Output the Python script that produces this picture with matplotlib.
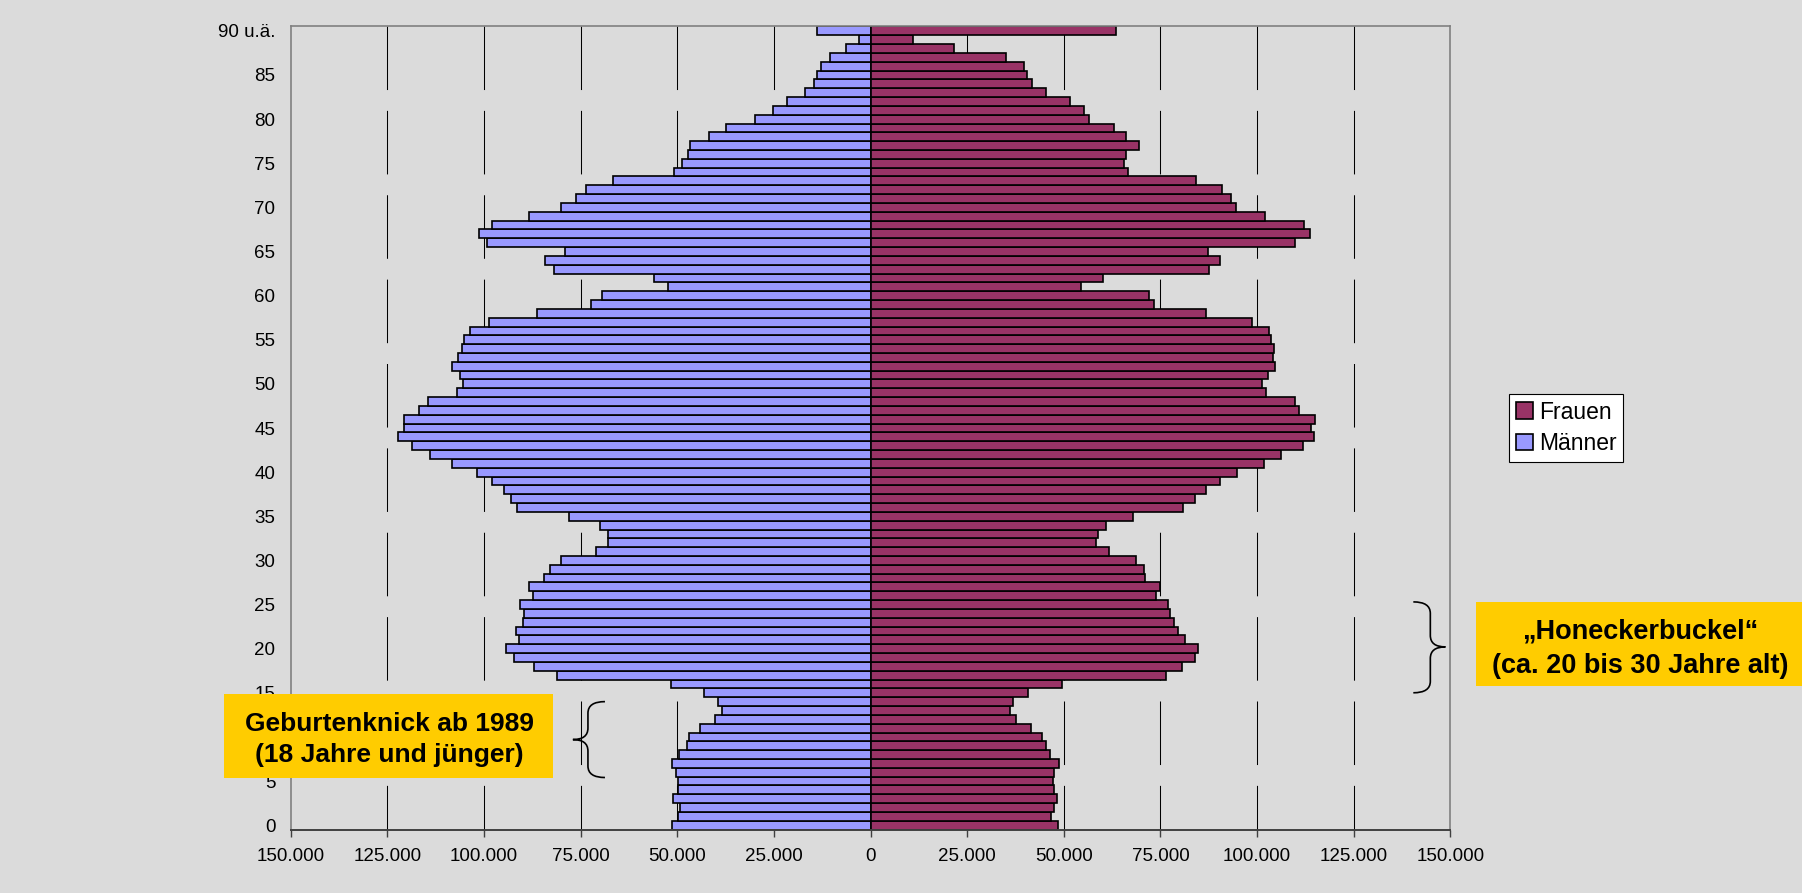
import numpy as np
import matplotlib
matplotlib.use("Agg")
import matplotlib.pyplot as plt
from matplotlib.path import Path
from matplotlib.patches import PathPatch, Rectangle

plt.rcParams['font.family'] = ['Liberation Sans', 'DejaVu Sans']

# Altersjahre 0 .. 90 (90 = "90 u.ä.")
ages = np.arange(0, 91)

# Männer je Altersjahr (0 .. 90)
maenner = [
    51300, 49800, 49400, 51200, 49800, 49800, 50400, 51400, 49600, 47600,
    46900, 44000, 40200, 38400, 39400, 43200, 51600, 81200, 87100, 92300,
    94400, 90900, 91800, 89900, 89700, 90600, 87200, 88300, 84500, 82800,
    80000, 70900, 67800, 68000, 69900, 78000, 91400, 92900, 94700, 97800,
    101900, 108200, 113900, 118600, 122200, 120800, 120800, 116800, 114600, 107000,
    105300, 106100, 108200, 106600, 105800, 105200, 103500, 98800, 86200, 72300,
    69400, 52500, 55900, 81800, 84100, 79000, 99100, 101300, 97900, 88400,
    80100, 76300, 73600, 66700, 50800, 48800, 47200, 46800, 41800, 37350,
    30000, 25200, 21700, 17000, 14600, 13900, 12850, 10570, 6400, 3000,
    13900,
]

# Frauen je Altersjahr (0 .. 90)
frauen = [
    48400, 46600, 47500, 48300, 47500, 47100, 47500, 48800, 46500, 45300,
    44400, 41400, 37600, 36000, 36900, 40700, 49400, 76500, 80600, 84000,
    84800, 81300, 79600, 78400, 77500, 77000, 73900, 75000, 71100, 70800,
    68700, 61700, 58400, 58800, 60900, 68000, 80800, 83800, 86700, 90300,
    94900, 101800, 106200, 111900, 114800, 114000, 114900, 110900, 109800, 102200,
    101200, 102900, 104700, 104000, 104400, 103600, 103100, 98800, 86700, 73400,
    72100, 54400, 60100, 87600, 90300, 87300, 109700, 113600, 112200, 102100,
    94500, 93300, 90900, 84300, 66600, 65600, 66100, 69500, 66000, 63000,
    56600, 55300, 51600, 45400, 41700, 40400, 39600, 35000, 21700, 11100,
    63600,
]

xticks = np.arange(-150000, 150001, 25000)
yticks = np.arange(0, 91, 5)
ylabels = [str(a) for a in yticks[:-1]] + ["90 u.ä."]

bg = '#DBDBDB'
fig = plt.figure(figsize=(18.02, 8.93), dpi=100, facecolor=bg)
ax = fig.add_axes([0.1613, 0.0710, 0.8049 - 0.1613, 0.9704 - 0.0710])
ax.set_facecolor(bg)

# Gitterlinien (von oben nach unten gestrichelt)
for xv in xticks[1:-1]:
    ax.axvline(xv, ymin=1, ymax=0, color='black', linewidth=0.75,
               linestyle=(0, (61, 20)), zorder=0.5)

bm = ax.barh(ages, -np.array(maenner), height=1.0, color='#9999FF',
             edgecolor='black', linewidth=1.2, zorder=2, label='Männer')
bf = ax.barh(ages, frauen, height=1.0, color='#993366',
             edgecolor='black', linewidth=1.2, zorder=2, label='Frauen')

ax.set_xlim(-150000, 150000)
ax.set_ylim(-0.5, 90.5)
ax.set_xticks(xticks)
ax.set_xticklabels([f"{abs(v):,}".replace(",", ".") for v in xticks])
ax.set_yticks(yticks)
ax.set_yticklabels(ylabels)
ax.tick_params(axis='x', direction='out', length=5, width=1, color='#404040',
               labelsize=13.5, pad=8)
ax.tick_params(axis='y', length=0, labelsize=13.5, pad=11)

for side in ['left', 'top', 'right']:
    ax.spines[side].set_color('#808080')
    ax.spines[side].set_linewidth(1.2)
ax.spines['bottom'].set_color('#404040')
ax.spines['bottom'].set_linewidth(1.4)

leg = fig.legend([bf, bm], ['Frauen', 'Männer'], loc='upper left',
                 bbox_to_anchor=(0.8374, 0.5588), bbox_transform=fig.transFigure,
                 fontsize=16.5, frameon=True, fancybox=False, framealpha=1,
                 edgecolor='black', borderpad=0.3, labelspacing=0.35,
                 handletextpad=0.25, handlelength=0.75, handleheight=0.75,
                 borderaxespad=0)
leg.get_frame().set_linewidth(0.8)


def brace(ax, x_end, x_mid, x_tip, y_top, y_bot, y_tip, r=1.3):
    verts = [
        (x_end, y_top),
        (x_mid, y_top), (x_mid, y_top - r),
        (x_mid, y_tip + r),
        (x_mid, y_tip), (x_tip, y_tip),
        (x_mid, y_tip), (x_mid, y_tip - r),
        (x_mid, y_bot + r),
        (x_mid, y_bot), (x_end, y_bot),
    ]
    codes = [Path.MOVETO, Path.CURVE3, Path.CURVE3, Path.LINETO,
             Path.CURVE3, Path.CURVE3, Path.CURVE3, Path.CURVE3,
             Path.LINETO, Path.CURVE3, Path.CURVE3]
    ax.add_patch(PathPatch(Path(verts, codes), facecolor='none',
                           edgecolor='black', linewidth=1.2, clip_on=False,
                           zorder=3))


brace(ax, -68700, -73100, -77000, 14.0, 5.4, 9.7)
brace(ax, 140400, 144800, 148700, 25.3, 15.0, 20.2)

# Textfelder
fig.add_artist(Rectangle((0.1243, 0.1288), 0.1826, 0.0941,
                         transform=fig.transFigure, facecolor='#FFCC00',
                         edgecolor='none', zorder=5))
fig.text(0.2159, 0.1718, "Geburtenknick ab 1989\n(18 Jahre und jünger)",
         ha='center', va='center', fontsize=19, fontweight='bold',
         linespacing=1.4, zorder=6)

fig.add_artist(Rectangle((0.8191, 0.2318), 0.1809, 0.0941,
                         transform=fig.transFigure, facecolor='#FFCC00',
                         edgecolor='none', zorder=5))
fig.text(0.9101, 0.2735, "\u201eHoneckerbuckel\u201c\n(ca. 20 bis 30 Jahre alt)",
         ha='center', va='center', fontsize=19.5, fontweight='bold',
         linespacing=1.4, zorder=6)

fig.savefig("out.png", dpi=100, facecolor=bg)
